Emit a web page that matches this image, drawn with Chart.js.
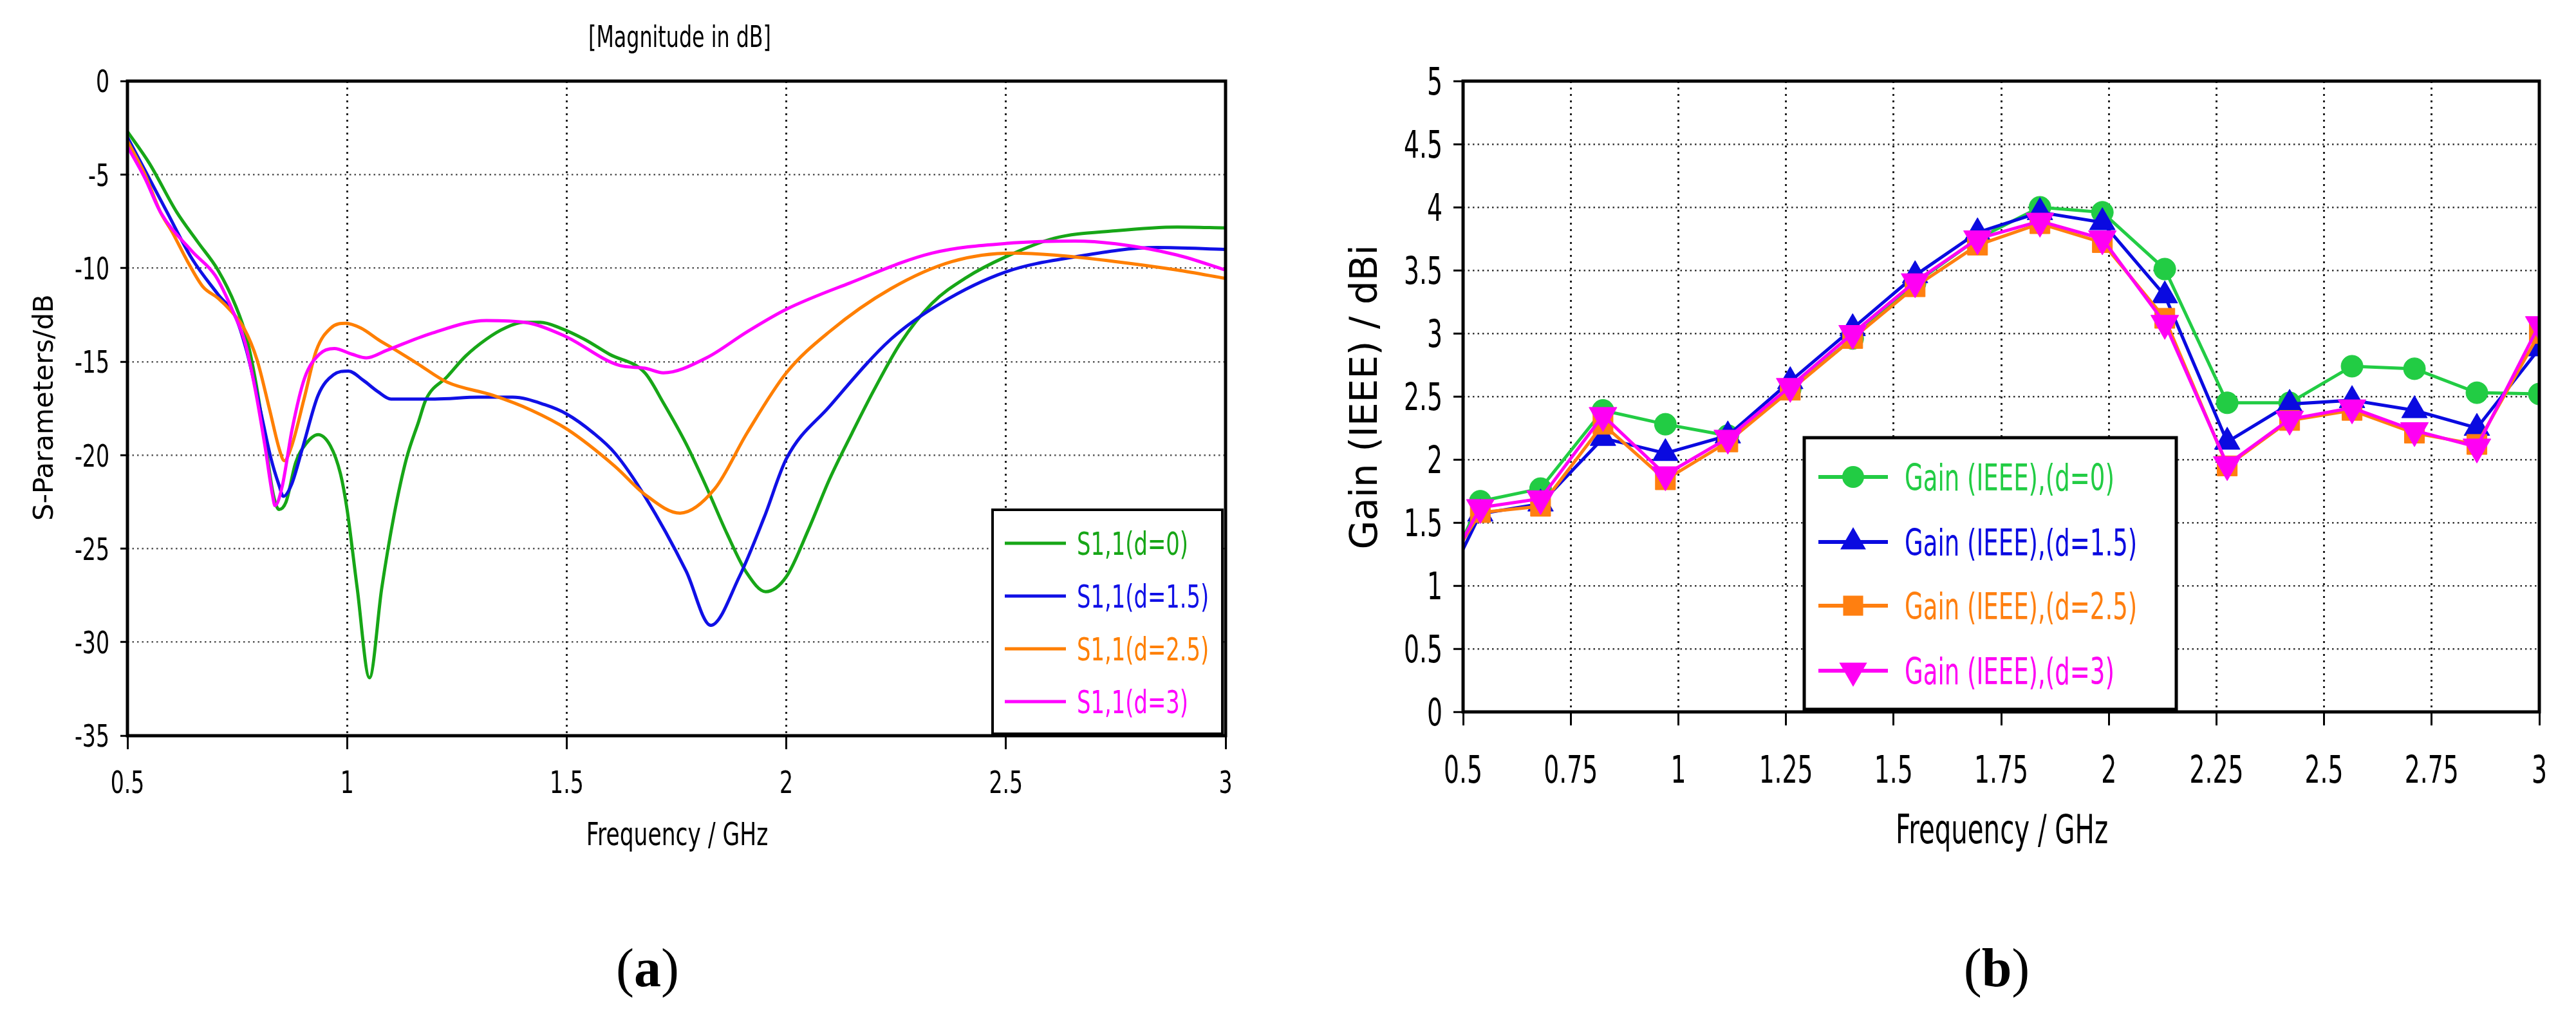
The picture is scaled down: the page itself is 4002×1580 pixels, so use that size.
<!DOCTYPE html>
<html>
<head>
<meta charset="utf-8">
<script src="https://cdn.jsdelivr.net/npm/chart.js@4.4.1/dist/chart.umd.min.js"></script>
<style>
  html, body { margin: 0; padding: 0; background: #fff; }
  body { width: 4002px; height: 1580px; position: relative; overflow: hidden; }
  canvas { position: absolute; top: 0; }
  #chartA { left: 0; }
  #chartB { left: 2000px; }
  .cap { position: absolute; top: 1462px; font-family: "Liberation Serif", "Times New Roman", serif;
         font-size: 84px; line-height: 1; transform: translateX(-50%); white-space: nowrap; color: #000; }
</style>
</head>
<body>
<canvas id="chartA" width="2000" height="1400"></canvas>
<canvas id="chartB" width="2002" height="1400"></canvas>
<div class="cap" style="left:1006px">(<b>a</b>)</div>
<div class="cap" style="left:3102px">(<b>b</b>)</div>
<script>
// ---- (a) S1,1 magnitude, one frequency/value pair per spacing d ----
var freqD0 = [0.5, 0.55, 0.612, 0.66, 0.706, 0.746, 0.771, 0.793, 0.815, 0.832, 0.845, 0.861, 0.883, 0.906, 0.934, 0.962, 0.985, 1.0, 1.023, 1.051, 1.079, 1.107, 1.135, 1.163, 1.18, 1.228, 1.27, 1.317, 1.36, 1.401, 1.44, 1.485, 1.54, 1.597, 1.678, 1.72, 1.772, 1.82, 1.865, 1.91, 1.953, 2.0, 2.05, 2.098, 2.15, 2.2, 2.26, 2.331, 2.41, 2.499, 2.61, 2.75, 2.89, 3.0];
var s11D0 = [-2.7, -4.4, -7.0, -8.6, -10.1, -12.0, -13.7, -16.2, -19.5, -22.1, -22.9, -22.5, -20.4, -19.4, -18.9, -19.5, -21.0, -22.9, -27.1, -31.9, -27.1, -23.2, -20.2, -18.2, -17.0, -15.8, -14.7, -13.8, -13.2, -12.9, -12.9, -13.2, -13.8, -14.6, -15.6, -17.2, -19.4, -21.8, -24.2, -26.3, -27.3, -26.5, -24.0, -21.3, -18.8, -16.5, -14.0, -11.9, -10.5, -9.4, -8.4, -8.0, -7.8, -7.85];

var freqD15 = [0.5, 0.545, 0.59, 0.647, 0.706, 0.746, 0.771, 0.8, 0.827, 0.845, 0.855, 0.873, 0.9, 0.934, 0.969, 1.003, 1.037, 1.07, 1.1, 1.2, 1.3, 1.377, 1.45, 1.5, 1.56, 1.61, 1.678, 1.772, 1.828, 1.893, 1.95, 2.0, 2.098, 2.238, 2.35, 2.5, 2.657, 2.843, 3.0];
var s11D15 = [-3.0, -5.0, -7.0, -9.5, -11.4, -12.6, -14.4, -17.3, -20.2, -21.6, -22.2, -21.6, -19.5, -16.8, -15.7, -15.5, -16.0, -16.6, -17.0, -17.0, -16.9, -16.9, -17.3, -17.8, -18.8, -19.9, -22.2, -26.2, -29.1, -26.5, -23.3, -20.2, -17.4, -13.8, -11.9, -10.2, -9.4, -8.9, -9.0];

var freqD25 = [0.5, 0.54, 0.575, 0.6025, 0.637, 0.672, 0.706, 0.736, 0.765, 0.795, 0.824, 0.846, 0.857, 0.874, 0.902, 0.93, 0.963, 0.997, 1.031, 1.076, 1.098, 1.16, 1.228, 1.332, 1.42, 1.5, 1.61, 1.678, 1.758, 1.837, 1.911, 2.0, 2.098, 2.238, 2.377, 2.517, 2.61, 2.75, 2.89, 3.0];
var s11D25 = [-3.2, -5.0, -7.0, -8.1, -9.65, -11.0, -11.6, -12.3, -13.2, -14.9, -17.6, -19.7, -20.3, -19.5, -17.0, -14.4, -13.2, -12.95, -13.2, -13.9, -14.2, -15.1, -16.1, -16.8, -17.6, -18.6, -20.6, -22.1, -23.1, -21.8, -18.8, -15.6, -13.4, -11.1, -9.65, -9.2, -9.3, -9.65, -10.1, -10.55];

var freqD3 = [0.5, 0.54, 0.575, 0.647, 0.7, 0.74, 0.768, 0.791, 0.813, 0.83, 0.836, 0.852, 0.875, 0.903, 0.937, 0.971, 1.011, 1.044, 1.09, 1.19, 1.317, 1.405, 1.493, 1.62, 1.678, 1.72, 1.818, 1.911, 2.0, 2.144, 2.331, 2.517, 2.657, 2.75, 2.89, 3.0];
var s11D3 = [-3.5, -5.2, -7.0, -9.1, -10.4, -12.3, -14.0, -16.5, -19.5, -22.1, -22.7, -21.7, -18.6, -15.9, -14.6, -14.3, -14.6, -14.8, -14.4, -13.5, -12.8, -12.9, -13.6, -15.2, -15.35, -15.6, -14.8, -13.4, -12.2, -10.8, -9.2, -8.65, -8.55, -8.7, -9.3, -10.1];

var namesA = ['S1,1(d=0)', 'S1,1(d=1.5)', 'S1,1(d=2.5)', 'S1,1(d=3)'];
var xTicksA = [0.5, 1, 1.5, 2, 2.5, 3];
var xLabelsA = ['0.5', '1', '1.5', '2', '2.5', '3'];
var yTicksA = [-35, -30, -25, -20, -15, -10, -5, 0];
var yLabelsA = ['-35', '-30', '-25', '-20', '-15', '-10', '-5', '0'];

// ---- (b) realized gain at the farfield monitor frequencies ----
var freqB = [0.5, 0.54, 0.68, 0.825, 0.97, 1.115, 1.26, 1.405, 1.55, 1.695, 1.84, 1.985, 2.13, 2.275, 2.42, 2.565, 2.71, 2.855, 3.0];
var gainD0 = [1.38, 1.67, 1.77, 2.39, 2.28, 2.19, 2.56, 2.96, 3.40, 3.75, 4.00, 3.96, 3.51, 2.45, 2.45, 2.74, 2.72, 2.53, 2.52];
var gainD15 = [1.29, 1.57, 1.65, 2.17, 2.05, 2.19, 2.62, 3.04, 3.46, 3.80, 3.96, 3.88, 3.30, 2.14, 2.44, 2.47, 2.39, 2.25, 2.88];
var gainD25 = [1.36, 1.58, 1.63, 2.28, 1.84, 2.14, 2.55, 2.96, 3.37, 3.70, 3.87, 3.72, 3.12, 1.95, 2.31, 2.39, 2.21, 2.12, 3.00];
var gainD3 = [1.37, 1.62, 1.69, 2.35, 1.88, 2.17, 2.58, 3.00, 3.41, 3.75, 3.89, 3.75, 3.08, 1.96, 2.32, 2.41, 2.23, 2.10, 3.07];

var namesB = ['Gain (IEEE),(d=0)', 'Gain (IEEE),(d=1.5)', 'Gain (IEEE),(d=2.5)', 'Gain (IEEE),(d=3)'];
var xTicksB = [0.5, 0.75, 1, 1.25, 1.5, 1.75, 2, 2.25, 2.5, 2.75, 3];
var xLabelsB = ['0.5', '0.75', '1', '1.25', '1.5', '1.75', '2', '2.25', '2.5', '2.75', '3'];
var yTicksB = [0, 0.5, 1, 1.5, 2, 2.5, 3, 3.5, 4, 4.5, 5];
var yLabelsB = ['0', '0.5', '1', '1.5', '2', '2.5', '3', '3.5', '4', '4.5', '5'];

// ---- styles ----
var colorsA = ['#17a617', '#1010e6', '#ff7f00', '#ff00ff'];
var colorsB = ['#22cc44', '#0a0ae0', '#ff7f10', '#ff00f4'];
var markersB = ['circle', 'triangle', 'rect', 'triangle'];
var markerRotB = [0, 0, 0, 180];
var markerSizeB = [17, 23, 22, 25];
var FONT = '"DejaVu Sans", Verdana, sans-serif';

function pairs(xs, ys) {
  return xs.map(function (x, i) { return { x: x, y: ys[i] }; });
}

function drawText(ctx, str, x, y, size, sx, align, color, rotate) {
  ctx.save();
  ctx.font = size + 'px ' + FONT;
  ctx.fillStyle = color || '#000';
  ctx.textAlign = align;
  ctx.textBaseline = 'alphabetic';
  ctx.translate(x, y);
  if (rotate) ctx.rotate(-Math.PI / 2);
  ctx.scale(sx, 1);
  ctx.fillText(str, 0, 0);
  ctx.restore();
}

function drawMarker(ctx, style, x, y, r, rot) {
  ctx.beginPath();
  if (style === 'circle') {
    ctx.arc(x, y, r, 0, Math.PI * 2);
  } else if (style === 'rect') {
    var s = r * Math.SQRT1_2;
    ctx.rect(x - s, y - s, 2 * s, 2 * s);
  } else {
    var k = rot === 180 ? -1 : 1;
    var h = Math.sin(Math.PI / 3) * r;
    ctx.moveTo(x, y - k * r);
    ctx.lineTo(x + h, y + k * r / 2);
    ctx.lineTo(x - h, y + k * r / 2);
    ctx.closePath();
  }
  ctx.fill();
}

// tick labels and axis titles, drawn condensed like the CST export
function axisText(o) {
  return {
    id: 'axisText',
    afterDraw: function (chart) {
      var ctx = chart.ctx, xs = chart.scales.x, ys = chart.scales.y;
      o.xTicks.forEach(function (v, i) {
        drawText(ctx, o.xLabels[i], xs.getPixelForValue(v), o.xBase, o.size, o.sx, 'center');
      });
      o.yTicks.forEach(function (v, i) {
        drawText(ctx, o.yLabels[i], o.yRight, ys.getPixelForValue(v) + o.size * 0.3645, o.size, o.sx, 'right');
      });
      o.titles.forEach(function (t) {
        drawText(ctx, t.text, t.x, t.y, t.size, t.sx, 'center', '#000', t.rotate);
      });
    }
  };
}

var framePlugin = {
  id: 'frame',
  afterDatasetsDraw: function (chart, args, opts) {
    var a = chart.chartArea, ctx = chart.ctx;
    ctx.save();
    ctx.lineWidth = opts.width;
    ctx.strokeStyle = '#000';
    ctx.strokeRect(a.left, a.top, a.right - a.left, a.bottom - a.top);
    ctx.restore();
  }
};

function boxLegend(o) {
  return {
    id: 'boxLegend',
    afterDraw: function (chart) {
      var ctx = chart.ctx;
      ctx.save();
      ctx.fillStyle = '#fff';
      ctx.fillRect(o.x, o.y, o.w, o.h);
      ctx.lineWidth = o.border;
      ctx.strokeStyle = '#000';
      ctx.strokeRect(o.x, o.y, o.w, o.h);
      chart.data.datasets.forEach(function (ds, i) {
        var y = o.rows[i];
        ctx.strokeStyle = ds.borderColor;
        ctx.lineWidth = o.lineWidth;
        ctx.beginPath();
        ctx.moveTo(o.line[0], y);
        ctx.lineTo(o.line[1], y);
        ctx.stroke();
        if (o.markers) {
          ctx.fillStyle = ds.borderColor;
          drawMarker(ctx, markersB[i], (o.line[0] + o.line[1]) / 2, y, o.markers[i], markerRotB[i]);
        }
        drawText(ctx, ds.label, o.textX, y + o.size * 0.3645, o.size, o.sx, 'left', ds.borderColor);
      });
      ctx.restore();
    }
  };
}

function scaleOpts(min, max, ticks, fit, grid) {
  return {
    type: 'linear', min: min, max: max,
    afterBuildTicks: function (s) { s.ticks = ticks.map(function (v) { return { value: v }; }); },
    afterFit: fit,
    ticks: { display: false },
    grid: { color: grid.color, lineWidth: grid.width, tickLength: grid.tick, tickWidth: 3, tickColor: '#000' },
    border: { display: false, dash: grid.dash }
  };
}

// ---------- chart (a) ----------
var seriesA = [pairs(freqD0, s11D0), pairs(freqD15, s11D15), pairs(freqD25, s11D25), pairs(freqD3, s11D3)];
new Chart(document.getElementById('chartA').getContext('2d'), {
  type: 'line',
  data: {
    datasets: seriesA.map(function (d, i) {
      return {
        label: namesA[i], data: d, borderColor: colorsA[i], backgroundColor: colorsA[i],
        borderWidth: 5, pointRadius: 0, fill: false, cubicInterpolationMode: 'monotone', order: 4 - i
      };
    })
  },
  options: {
    responsive: false, animation: false, devicePixelRatio: 1, events: [],
    layout: { padding: { left: 0, top: 126, right: 96, bottom: 157 } },
    plugins: { legend: { display: false }, tooltip: { enabled: false }, frame: { width: 5 } },
    scales: {
      x: scaleOpts(0.5, 3, xTicksA, function (s) { s.height = 100; }, { color: '#222', width: 3, tick: 21, dash: [3, 7] }),
      y: scaleOpts(-35, 0, yTicksA, function (s) { s.width = 198; }, { color: '#555', width: 2.5, tick: 11, dash: [2.5, 5] })
    }
  },
  plugins: [framePlugin,
    boxLegend({ x: 1542, y: 792, w: 357, h: 348, border: 4, rows: [844, 926, 1008, 1090], line: [1561, 1656], lineWidth: 5, textX: 1673, size: 49, sx: 0.69 }),
    axisText({
      xTicks: xTicksA, xLabels: xLabelsA, yTicks: yTicksA, yLabels: yLabelsA,
      size: 48, sx: 0.69, xBase: 1231.5, yRight: 170,
      titles: [
        { text: '[Magnitude in dB]', x: 1056, y: 73, size: 46, sx: 0.69 },
        { text: 'Frequency / GHz', x: 1052, y: 1313, size: 50, sx: 0.69 },
        { text: 'S-Parameters/dB', x: 82, y: 633, size: 42, sx: 1, rotate: true }
      ]
    })]
});

// ---------- chart (b) ----------
var seriesB = [gainD0, gainD15, gainD25, gainD3];
new Chart(document.getElementById('chartB').getContext('2d'), {
  type: 'line',
  data: {
    datasets: seriesB.map(function (g, i) {
      return {
        label: namesB[i], data: pairs(freqB, g), borderColor: colorsB[i], backgroundColor: colorsB[i],
        borderWidth: 5, fill: false, tension: 0, order: 4 - i,
        pointStyle: markersB[i], pointRotation: markerRotB[i],
        pointBackgroundColor: colorsB[i], pointBorderColor: colorsB[i], pointBorderWidth: 1,
        pointRadius: function (c) { return c.dataIndex === 0 ? 0 : markerSizeB[i]; }
      };
    })
  },
  options: {
    responsive: false, animation: false, devicePixelRatio: 1, events: [],
    layout: { padding: { left: 0, top: 126, right: 57, bottom: 194 } },
    plugins: { legend: { display: false }, tooltip: { enabled: false }, frame: { width: 5 } },
    scales: {
      x: scaleOpts(0.5, 3, xTicksB, function (s) { s.height = 100; }, { color: '#222', width: 3, tick: 21, dash: [3, 7] }),
      y: scaleOpts(0, 5, yTicksB, function (s) { s.width = 273; }, { color: '#333', width: 2.5, tick: 15, dash: [2.5, 5] })
    }
  },
  plugins: [framePlugin,
    boxLegend({ x: 803, y: 680, w: 578, h: 422, border: 5, rows: [741, 842, 941, 1042], line: [825, 933], lineWidth: 6, markers: markerSizeB, textX: 959, size: 57, sx: 0.65 }),
    axisText({
      xTicks: xTicksB, xLabels: xLabelsB, yTicks: yTicksB, yLabels: yLabelsB,
      size: 58, sx: 0.65, xBase: 1216, yRight: 241,
      titles: [
        { text: 'Frequency / GHz', x: 1110, y: 1310, size: 62, sx: 0.65 },
        { text: 'Gain (IEEE) / dBi', x: 139, y: 617, size: 58, sx: 1, rotate: true }
      ]
    })]
});
</script>
</body>
</html>
